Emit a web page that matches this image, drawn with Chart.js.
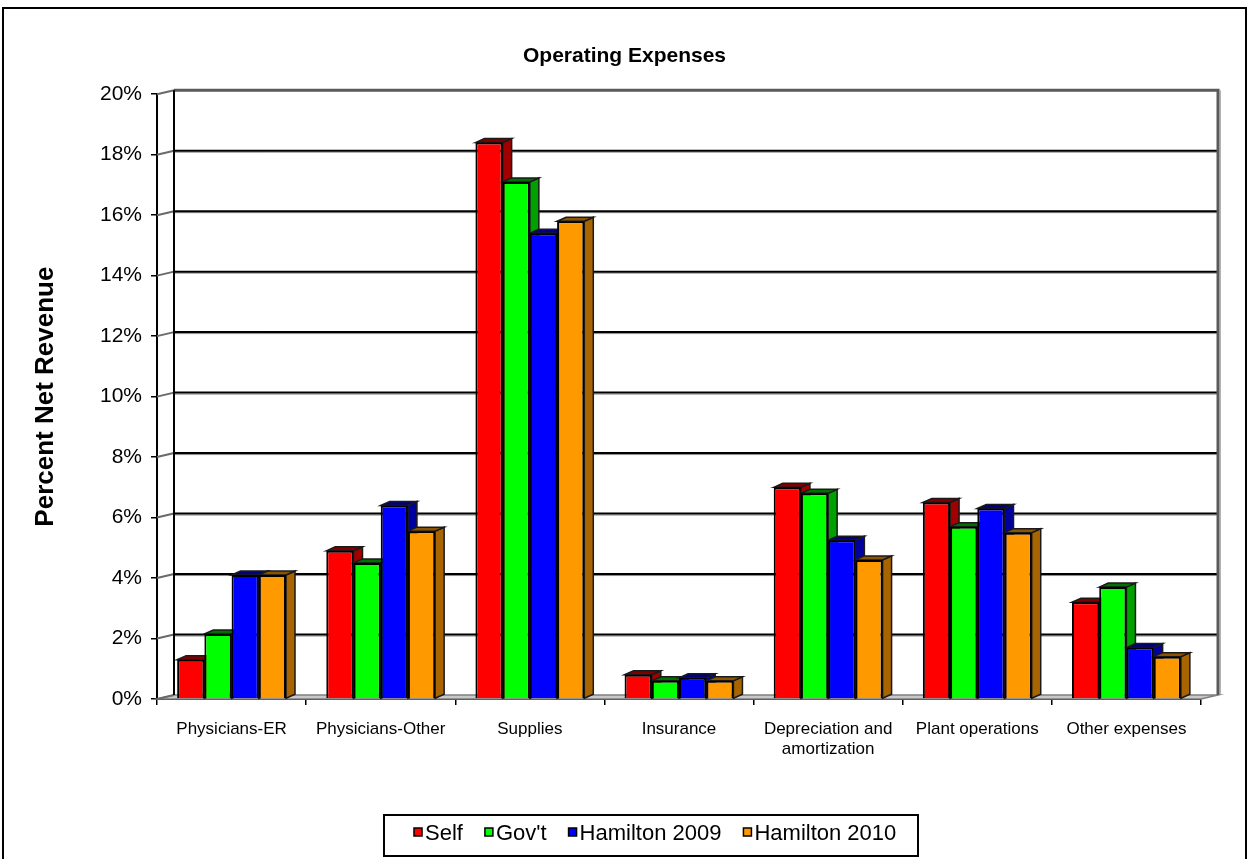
<!DOCTYPE html>
<html>
<head>
<meta charset="utf-8">
<title>Operating Expenses</title>
<script src="https://cdn.jsdelivr.net/npm/chart.js@4.4.1/dist/chart.umd.min.js"></script>
<style>
  html, body { margin: 0; padding: 0; background: #ffffff; }
  #wrap { width: 1249px; height: 859px; position: relative; }
  canvas { display: block; }
</style>
</head>
<body>
<div id="wrap"><canvas id="chart" width="1249" height="859"></canvas></div>
<script>
// Expense categories (x axis)
const categories = [
  'Physicians-ER',
  'Physicians-Other',
  'Supplies',
  'Insurance',
  ['Depreciation and', 'amortization'],
  'Plant operations',
  'Other expenses'
];

// Series names
const seriesNames = ['Self', "Gov't", 'Hamilton 2009', 'Hamilton 2010'];

// Percent of net revenue per category
const selfValues    = [1.3, 4.9, 18.4, 0.8, 7.0, 6.5, 3.2];
const govValues     = [2.15, 4.5, 17.1, 0.6, 6.8, 5.7, 3.7];
const ham2009Values = [4.1, 6.4, 15.4, 0.7, 5.25, 6.3, 1.7];
const ham2010Values = [4.1, 5.55, 15.8, 0.6, 4.6, 5.5, 1.4];

// Value axis ticks (percent)
const yTicks = [0, 2, 4, 6, 8, 10, 12, 14, 16, 18, 20];

const faceColors = ['#FF0000', '#00FF00', '#0000FF', '#FF9900'];
const sideColors = ['#A00000', '#00A000', '#0000A0', '#A86400'];
const topColors  = ['#800000', '#007000', '#000080', '#8C5400'];

const FONT = "'Liberation Sans', Arial, Helvetica, sans-serif";

// depth of the back wall and of each bar (pseudo 3D)
const WALL_DX = 17, WALL_DY = -4;
const BAR_DX = 9, BAR_DY = -4;

const threeD = {
  id: 'threeD',
  afterLayout(chart) {
    // centre the title over the whole frame rather than the padded box
    const tb = chart.titleBlock;
    if (tb) { tb.left += 24; tb.right += 24; }
  },
  beforeDatasetsDraw(chart) {
    const ctx = chart.ctx;
    const area = chart.chartArea;
    const y = chart.scales.y;
    const L = area.left, R = area.right, B = area.bottom;
    const yTop = y.getPixelForValue(yTicks[yTicks.length - 1]);
    ctx.save();

    // floor
    ctx.beginPath();
    ctx.moveTo(L, B);
    ctx.lineTo(R, B);
    ctx.lineTo(R + WALL_DX, B + WALL_DY);
    ctx.lineTo(L + WALL_DX, B + WALL_DY);
    ctx.closePath();
    ctx.fillStyle = '#C8C8C8';
    ctx.fill();
    ctx.strokeStyle = '#808080';
    ctx.lineWidth = 1.5;
    ctx.stroke();

    // back wall gridlines
    yTicks.forEach(v => {
      const py = y.getPixelForValue(v) + WALL_DY;
      if (v === 0 || v === yTicks[yTicks.length - 1]) return;
      ctx.beginPath();
      ctx.moveTo(L + WALL_DX, py + 1.5);
      ctx.lineTo(R + WALL_DX, py + 1.5);
      ctx.strokeStyle = '#8a8a8a';
      ctx.lineWidth = 1;
      ctx.stroke();
      ctx.beginPath();
      ctx.moveTo(L + WALL_DX, py);
      ctx.lineTo(R + WALL_DX, py);
      ctx.strokeStyle = '#000000';
      ctx.lineWidth = 2;
      ctx.stroke();
    });

    // back wall frame (top and right)
    ctx.beginPath();
    ctx.moveTo(L + WALL_DX, yTop + WALL_DY);
    ctx.lineTo(R + WALL_DX, yTop + WALL_DY);
    ctx.lineTo(R + WALL_DX, B + WALL_DY);
    ctx.strokeStyle = '#5a5a5a';
    ctx.lineWidth = 3;
    ctx.stroke();
    ctx.beginPath();
    ctx.moveTo(R + WALL_DX + 2, yTop + WALL_DY);
    ctx.lineTo(R + WALL_DX + 2, B + WALL_DY);
    ctx.strokeStyle = '#9a9a9a';
    ctx.lineWidth = 1.5;
    ctx.stroke();

    // left wall: short receding lines at each tick
    yTicks.forEach(v => {
      const py = y.getPixelForValue(v);
      ctx.beginPath();
      ctx.moveTo(L, py);
      ctx.lineTo(L + WALL_DX, py + WALL_DY);
      ctx.strokeStyle = '#6a6a6a';
      ctx.lineWidth = 2;
      ctx.stroke();
    });

    // left wall back edge
    ctx.beginPath();
    ctx.moveTo(L + WALL_DX, yTop + WALL_DY);
    ctx.lineTo(L + WALL_DX, B + WALL_DY);
    ctx.strokeStyle = '#000000';
    ctx.lineWidth = 2;
    ctx.stroke();

    // bar sides and tops, series by series (fronts are drawn by the library on top)
    chart.data.datasets.forEach((ds, di) => {
      const meta = chart.getDatasetMeta(di);
      meta.data.forEach(bar => {
        const p = bar.getProps(['x', 'y', 'base', 'width'], true);
        const l = p.x - p.width / 2, r = p.x + p.width / 2;
        const t = Math.min(p.y, p.base), b = Math.max(p.y, p.base);
        // right side
        ctx.beginPath();
        ctx.moveTo(r, t);
        ctx.lineTo(r + BAR_DX, t + BAR_DY);
        ctx.lineTo(r + BAR_DX, b + BAR_DY);
        ctx.lineTo(r, b);
        ctx.closePath();
        ctx.fillStyle = sideColors[di];
        ctx.fill();
        ctx.strokeStyle = '#1a1a1a';
        ctx.lineWidth = 1.5;
        ctx.stroke();
        // top
        ctx.beginPath();
        ctx.moveTo(l, t);
        ctx.lineTo(l + BAR_DX, t + BAR_DY);
        ctx.lineTo(r + BAR_DX, t + BAR_DY);
        ctx.lineTo(r, t);
        ctx.closePath();
        ctx.fillStyle = topColors[di];
        ctx.fill();
        ctx.stroke();
      });
    });
    ctx.restore();
  },
  afterDraw(chart) {
    const ctx = chart.ctx;
    ctx.save();
    // outer frame
    ctx.strokeStyle = '#000000';
    ctx.lineWidth = 2;
    ctx.strokeRect(3, 8, 1243, 880);

    // legend
    const boxL = 384, boxT = 815, boxR = 918, boxB = 856;
    ctx.fillStyle = '#ffffff';
    ctx.fillRect(boxL, boxT, boxR - boxL, boxB - boxT);
    ctx.strokeStyle = '#000000';
    ctx.lineWidth = 2;
    ctx.strokeRect(boxL, boxT, boxR - boxL, boxB - boxT);
    ctx.font = '22px ' + FONT;
    ctx.textBaseline = 'alphabetic';
    ctx.textAlign = 'left';
    let x = 414;
    const baseY = 840;
    chart.data.datasets.forEach((ds, di) => {
      ctx.fillStyle = ds.backgroundColor;
      ctx.fillRect(x, 828, 8, 8);
      ctx.strokeStyle = '#000000';
      ctx.lineWidth = 1.5;
      ctx.strokeRect(x, 828, 8, 8);
      ctx.fillStyle = '#000000';
      ctx.fillText(ds.label, x + 11, baseY);
      x += 11 + ctx.measureText(ds.label).width + 22;
    });
    ctx.restore();
  }
};

const valueSets = [selfValues, govValues, ham2009Values, ham2010Values];

new Chart(document.getElementById('chart'), {
  type: 'bar',
  data: {
    labels: categories,
    datasets: seriesNames.map((name, i) => ({
      label: name,
      data: valueSets[i],
      backgroundColor: faceColors[i],
      borderColor: '#000000',
      borderWidth: 2,
      categoryPercentage: 0.73,
      barPercentage: 1.0
    }))
  },
  options: {
    responsive: false,
    animation: false,
    events: [],
    layout: { padding: { left: 0, right: 48, top: 0, bottom: 60 } },
    plugins: {
      legend: { display: false },
      tooltip: { enabled: false },
      title: {
        display: true,
        text: 'Operating Expenses',
        color: '#000000',
        font: { family: FONT, size: 21, weight: 'bold' },
        padding: { top: 44, bottom: 25 }
      }
    },
    scales: {
      x: {
        offset: true,
        grid: {
          display: true,
          drawOnChartArea: false,
          drawTicks: true,
          tickLength: 6,
          color: '#000000',
          lineWidth: 1.5,
          offset: true
        },
        border: { display: true, color: '#000000', width: 2 },
        ticks: {
          color: '#000000',
          font: { family: FONT, size: 17 },
          padding: 14,
          maxRotation: 0,
          autoSkip: false
        },
        afterFit(scale) { scale.height = 100; }
      },
      y: {
        min: 0,
        max: 20,
        grid: {
          display: true,
          drawOnChartArea: false,
          drawTicks: true,
          tickLength: 6,
          color: '#000000',
          lineWidth: 1.5
        },
        border: { display: true, color: '#000000', width: 2 },
        ticks: {
          stepSize: 2,
          color: '#000000',
          font: { family: FONT, size: 21 },
          padding: 9,
          callback: v => v + '%'
        },
        title: {
          display: true,
          text: 'Percent Net Revenue',
          color: '#000000',
          font: { family: FONT, size: 26, weight: 'bold' },
          padding: { top: 30, bottom: 0 }
        },
        afterFit(scale) { scale.width = 157; }
      }
    }
  },
  plugins: [threeD]
});
</script>
</body>
</html>
